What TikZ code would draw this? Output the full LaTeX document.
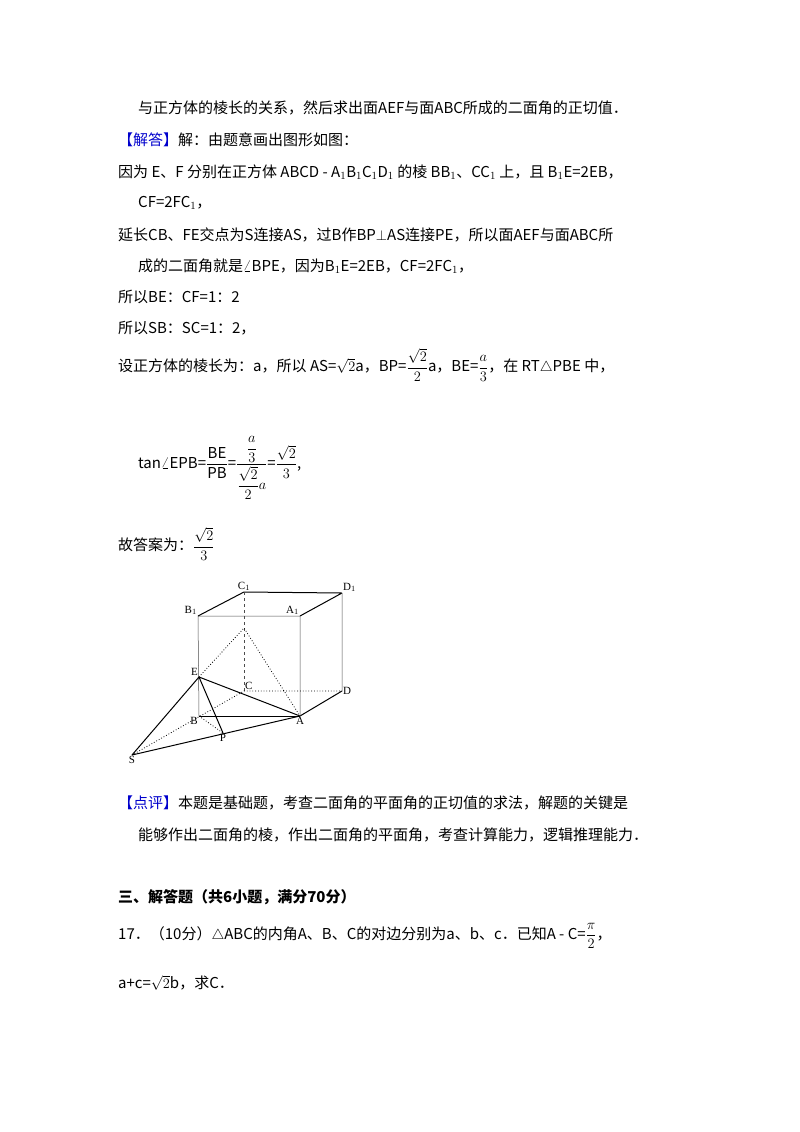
\documentclass[tikz,border=0pt]{standalone}
\usepackage{amsmath}
\usepackage{fontspec}
\setmainfont{Noto Sans CJK SC}
\newfontfamily\lbl{Liberation Serif}
\begin{document}
\begin{tikzpicture}[x=1pt,y=-1pt,
 txt/.style={anchor=west,inner sep=0pt,font=\fontsize{15}{18}\selectfont},
 fl/.style={font=\lbl\fontsize{11}{12}\selectfont,inner sep=1pt},
 edge/.style={line width=0.5pt,draw=black!70},
 thick2/.style={line width=1pt},
 dot/.style={line width=0.8pt,dotted},
 dash2/.style={line width=0.5pt,dashed,draw=black!70}]
\useasboundingbox (0,0) rectangle (800,1132);
\node[txt] (t1) at (138,108) {与正方体的棱长的关系，然后求出面AEF与面ABC所成的二面角的正切值．};
\node[txt] (t2) at (118,140) {\textcolor{blue!80!black}{【解答】}解：由题意画出图形如图：};
\node[txt] (t3) at (118,172) {因为 E、F 分别在正方体 ABCD - A$_1$B$_1$C$_1$D$_1$ 的棱 BB$_1$、CC$_1$ 上，且 B$_1$E=2EB，};
\node[txt] (t4) at (138,203) {CF=2FC$_1$，};
\node[txt] (t5) at (118,235) {延长CB、FE交点为S连接AS，过B作BP$\perp$AS连接PE，所以面AEF与面ABC所};
\node[txt] (t6) at (138,266) {成的二面角就是$\angle$BPE，因为B$_1$E=2EB，CF=2FC$_1$，};
\node[txt] (t7) at (118,297) {所以BE：CF=1：2};
\node[txt] (t8) at (118,328) {所以SB：SC=1：2，};
\node[txt] (t9) at (118,365) {设正方体的棱长为：a，所以 AS=$\sqrt{2}$a，BP=$\dfrac{\sqrt{2}}{2}$a，BE=$\dfrac{a}{3}$，在 RT$\triangle$PBE 中，};
\node[txt] (t10) at (138,468) {tan$\angle$EPB=$\dfrac{\mathrm{BE}}{\mathrm{PB}}$=$\dfrac{\ \dfrac{a}{3}\ }{\dfrac{\sqrt{2}}{2}a}$=$\dfrac{\sqrt{2}}{3}$,};
\node[txt] (t11) at (118,544) {故答案为：$\dfrac{\sqrt{2}}{3}$};
\node[txt] (t12) at (118,803) {\textcolor{blue!80!black}{【点评】}本题是基础题，考查二面角的平面角的正切值的求法，解题的关键是};
\node[txt] (t13) at (138,835) {能够作出二面角的棱，作出二面角的平面角，考查计算能力，逻辑推理能力．};
\node[txt,font=\fontsize{15}{18}\selectfont\bfseries] (t14) at (118,897) {三、解答题（共6小题，满分70分）};
\node[txt] (t15) at (118,936) {17．（10分）$\triangle$ABC的内角A、B、C的对边分别为a、b、c．已知A - C=$\dfrac{\pi}{2}$，};
\node[txt] (t16) at (118,983) {a+c=$\sqrt{2}$b，求C．};
% figure
\coordinate (C1) at (244,592);
\coordinate (D1) at (342,593);
\coordinate (B1) at (198,616);
\coordinate (A1) at (300,616);
\coordinate (F) at (244,628);
\coordinate (E) at (199,677);
\coordinate (C) at (244,691);
\coordinate (D) at (342,691);
\coordinate (B) at (199,716);
\coordinate (A) at (300,716);
\coordinate (P) at (223,733);
\coordinate (S) at (132,755);
\draw[thick2] (B1)--(C1)--(D1) (A1)--(D1) (A)--(D);
\draw[edge] (B1)--(A1) (B1)--(B) (A1)--(A) (D1)--(D);
\draw[dash2] (C1)--(C);
\draw[thick2] (B)--(A);
\draw[dot] (C)--(D) (S)--(C) (B)--(P) (E)--(F)--(A);
\draw[thick2] (E)--(A) (E)--(P) (E)--(S) (S)--(A);
\node[fl,above] (lC1) at (C1) {C$_1$};
\node[fl,above right] (lD1) at (D1) {D$_1$};
\node[fl,above left] (lB1) at (B1) {B$_1$};
\node[fl,above left] (lA1) at (A1) {A$_1$};
\node[fl,above left] (lE) at (E) {E};
\node[fl,above right] (lC) at (C) {C};
\node[fl,right] (lD) at (D) {D};
\node[fl,below left] (lB) at (B) {B};
\node[fl,below] (lA) at (A) {A};
\node[fl,below] (lP) at (P) {P};
\node[fl,below] (lS) at (S) {S};
\end{tikzpicture}
\end{document}
